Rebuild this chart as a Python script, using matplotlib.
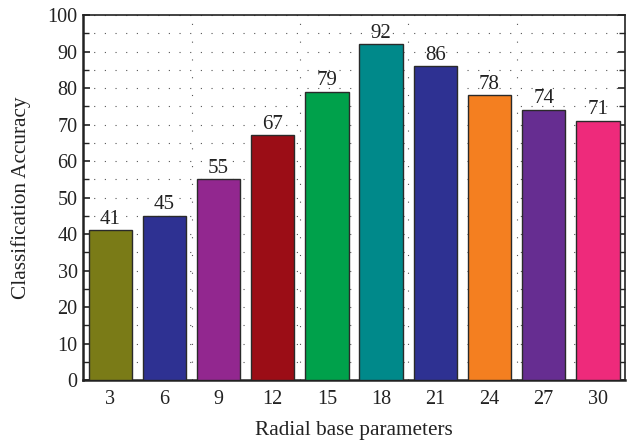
import matplotlib
matplotlib.use("Agg")
import matplotlib.pyplot as plt
from matplotlib.ticker import MultipleLocator, FixedLocator

params = [3, 6, 9, 12, 15, 18, 21, 24, 27, 30]
accuracy = [41, 45, 55, 67, 79, 92, 86, 78, 74, 71]
bar_colors = ["#7a7b17", "#2e3192", "#92278f", "#9b0d16", "#00a14b",
              "#00898a", "#2e3192", "#f47f20", "#662d91", "#ee2a7b"]

plt.rcParams["font.family"] = ["Liberation Serif", "DejaVu Serif"]

fig = plt.figure(figsize=(6.3, 4.41), dpi=100)
ax = fig.add_axes([0.132, 0.138, 0.860, 0.828])

bars = ax.bar(params, accuracy, width=2.4, color=bar_colors,
              edgecolor="#2a2a2a", linewidth=1.0, zorder=3)
for x, v in zip(params, accuracy):
    ax.text(x, v + 0.4, str(v), ha="center", va="bottom", fontsize=15,
            color="#222222", zorder=4)

ax.set_xlim(1.5, 31.5)
ax.set_ylim(0, 100)
ax.set_xticks(params)
ax.yaxis.set_major_locator(MultipleLocator(10))
ax.yaxis.set_minor_locator(MultipleLocator(5))
ax.xaxis.set_minor_locator(FixedLocator([7.5, 13.5, 19.5, 25.5]))

ax.grid(True, which="both", axis="y", linestyle=(0, (1, 8.6)), color="#555555",
        linewidth=0.8, zorder=0)
ax.grid(True, which="minor", axis="x", linestyle=(0, (1, 15)), color="#555555",
        linewidth=0.8, zorder=0)

ax.tick_params(axis="both", which="both", direction="in", labelsize=14.5,
               colors="#222222", right=True)
ax.tick_params(axis="x", which="major", length=5, width=1.2, pad=7)
ax.tick_params(axis="y", which="major", length=5, width=1.2, pad=4)
ax.tick_params(axis="y", which="minor", length=4, width=1.0)
ax.tick_params(axis="x", which="minor", length=0)

for side in ["left", "bottom"]:
    ax.spines[side].set_linewidth(1.8)
for side in ["top", "right"]:
    ax.spines[side].set_linewidth(1.2)
for s in ax.spines.values():
    s.set_color("#222222")

ax.set_xlabel("Radial base parameters", fontsize=15.3, color="#222222", labelpad=9)
ax.set_ylabel("Classification Accuracy", fontsize=15.3, color="#222222", labelpad=12)

fig.savefig("out.png", dpi=100)
